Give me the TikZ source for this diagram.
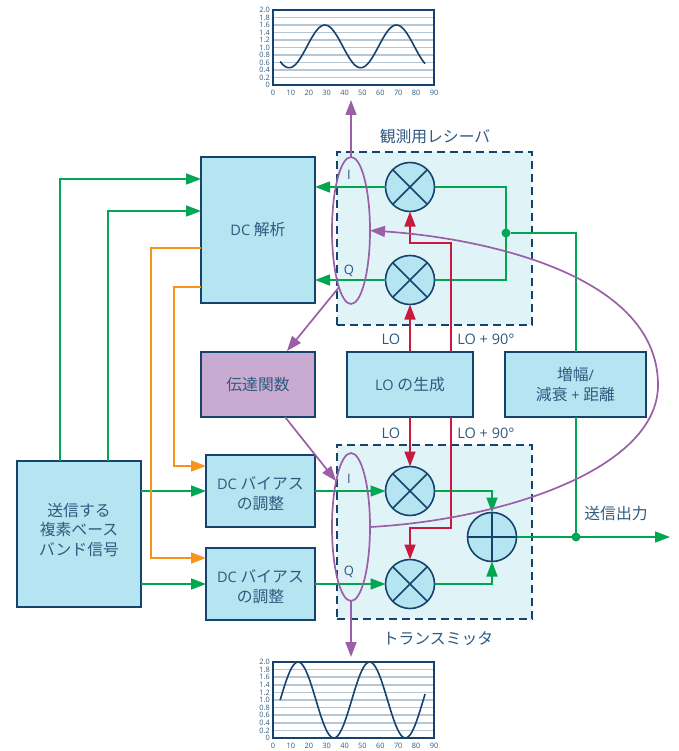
\documentclass[tikz,border=0pt]{standalone}
\usepackage{fontspec}
\setmainfont{Open Sans}
\newfontfamily\cjk[Scale=1.09]{Noto Sans CJK JP}
\usetikzlibrary{arrows.meta,shapes.geometric,calc}
\definecolor{dk}{HTML}{16436E}
\definecolor{txt}{HTML}{2F5A80}
\definecolor{bx}{HTML}{B5E5F0}
\definecolor{pn}{HTML}{E0F4F8}
\definecolor{gn}{HTML}{00A651}
\definecolor{rd}{HTML}{C8193F}
\definecolor{pp}{HTML}{9B5FA8}
\definecolor{og}{HTML}{F7941E}
\definecolor{tf}{HTML}{C9AAD0}
\definecolor{gr}{HTML}{B5C7D5}
\newcommand{\J}[1]{{\cjk #1}}
\tikzset{
  tip/.style={-{Triangle[length=15pt,width=11pt]}},
  box/.style={draw=dk,line width=1.6pt,fill=bx,outer sep=0pt,inner sep=0pt,text=txt,align=center,
     font=\fontsize{14.5}{19.5}\selectfont},
  panel/.style={draw=dk,line width=1.6pt,fill=pn,dash pattern=on 8pt off 5pt},
  mix/.style={circle,draw=dk,line width=1.6pt,fill=bx,minimum size=49pt,inner sep=0pt,outer sep=0pt},
  xline/.style={draw=dk,line width=1.6pt},
  oval/.style={ellipse,draw=pp,line width=1.7pt,minimum width=38pt,inner sep=0pt,outer sep=0pt},
  gw/.style={draw=gn,line width=1.6pt},
  rw/.style={draw=rd,line width=1.6pt},
  pw/.style={draw=pp,line width=1.7pt},
  ow/.style={draw=og,line width=1.6pt},
  lab/.style={text=txt,font=\fontsize{14.5}{18}\selectfont,inner sep=0pt},
  tick/.style={text=txt,font=\fontsize{7.4}{8}\selectfont,inner sep=0pt},
  dot/.style={circle,fill=gn,minimum size=9pt,inner sep=0pt,outer sep=0pt},
  gridl/.style={draw=gr,line width=1.2pt},
  frame/.style={draw=dk,line width=1.6pt},
  curve/.style={draw=dk,line width=1.6pt,line join=round},
}
\begin{document}
\begin{tikzpicture}[x=1pt,y=-1pt]
\useasboundingbox (0,0) rectangle (678,751);
% panels
\node[panel,draw,minimum width=195pt,minimum height=173pt,inner sep=0pt] (rxp) at (434.5,238.5) {};
\node[panel,draw,minimum width=195pt,minimum height=174pt,inner sep=0pt] (txp) at (434.5,532) {};
% coordinates
\coordinate (g1) at (60,179);
\coordinate (g2) at (108,211);
\coordinate (o1) at (151,248);
\coordinate (o2) at (174,287);
\coordinate (rxo) at (451,243);
\coordinate (txo) at (451,528);
\coordinate (t1) at (351,100);
\coordinate (t2) at (351,657);
\coordinate (out) at (670,537);
\coordinate (amp1) at (576,233);
% boxes
\node[box,minimum width=114pt,minimum height=146pt] (dc) at (258,230) {DC \J{解析}};
\node[box,fill=tf,minimum width=114pt,minimum height=65pt] (tfn) at (258,384.5) {\J{伝達関数}};
\node[box,minimum width=126pt,minimum height=65pt] (lo) at (410,384.5) {LO \J{の生成}};
\node[box,minimum width=141pt,minimum height=65pt] (amp) at (575.5,384.5) {\J{増幅}/\\\J{減衰} + \J{距離}};
\node[box,minimum width=124pt,minimum height=146pt] (tx) at (79,534) {\J{送信する}\\\J{複素ベース}\\\J{バンド信号}\\[-10pt]\mbox{}};
\node[box,minimum width=109pt,minimum height=72pt] (b1) at (260.5,491) {\rule{0pt}{18pt}DC \J{バイアス}\\\J{の調整}};
\node[box,minimum width=109pt,minimum height=72pt] (b2) at (260.5,584) {\rule{0pt}{18pt}DC \J{バイアス}\\\J{の調整}};
% mixers
\node[mix] (m1) at (410,187) {};
\node[mix] (m2) at (410,280) {};
\node[mix] (m3) at (410,491) {};
\node[mix] (m4) at (410,584) {};
\node[mix] (pl) at (492,537) {};
\foreach \m in {m1,m2,m3,m4}{
  \draw[xline] (\m.north west) -- (\m.south east);
  \draw[xline] (\m.north east) -- (\m.south west);
}
\draw[xline] (pl.north) -- (pl.south);
\draw[xline] (pl.west) -- (pl.east);
% green
\draw[gw,tip] (g1 |- tx.north) -- (g1) -- (g1 -| dc.west);
\draw[gw,tip] (g2 |- tx.north) -- (g2) -- (g2 -| dc.west);
\draw[gw,tip] (tx.east |- b1.west) -- (b1.west);
\draw[gw,tip] (tx.east |- b2.west) -- (b2.west);
\draw[gw,tip] (b1.east) -- (m3.west);
\draw[gw,tip] (b2.east) -- (m4.west);
\draw[gw,tip] (m1.west) -- (m1.west -| dc.east);
\draw[gw,tip] (m2.west) -- (m2.west -| dc.east);
\node[dot] (j1) at (506,233) {};
\draw[gw] (m1.east) -- (m1.east -| j1) -- (m2.east -| j1) -- (m2.east);
\draw[gw] (j1) -- (amp1) -- (amp.north -| amp1);
\node[dot] (j2) at (576,537) {};
\draw[gw] (amp.south -| j2) -- (j2);
\draw[gw,tip] (m3.east) -- (m3.east -| pl) -- (pl.north);
\draw[gw,tip] (m4.east) -- (m4.east -| pl) -- (pl.south);
\draw[gw,tip] (pl.east) -- (out);
% orange
\draw[ow,tip] (o1 -| dc.west) -- (o1) -- (o1 |- 0,558) -- (b2.west |- 0,558);
\draw[ow,tip] (o2 -| dc.west) -- (o2) -- (o2 |- 0,466) -- (b1.west |- 0,466);
% red
\draw[rw,tip] (m2.south |- lo.north) -- (m2.south);
\draw[rw,tip] (rxo |- lo.north) -- (rxo) -- (rxo -| m1) -- (m1.south);
\draw[rw,tip] (m3.north |- lo.south) -- (m3.north);
\draw[rw,tip] (txo |- lo.south) -- (txo) -- (txo -| m4) -- (m4.north);
% ovals
\node[oval,minimum height=147pt] (e1) at (351,230.5) {};
\node[oval,minimum height=148pt] (e2) at (351,527) {};
% purple
\draw[pw,tip] (e1.north) -- (t1);
\draw[pw,tip] (e2.south) -- (t2);
\draw[pw,tip] (e1.-102) -- ($(tfn.north)+(29,-1)$);
\draw[pw,tip] ($(tfn.south)+(27,0)$) -- (e2.108);
\draw[pw,tip] (e2.east) .. controls (500,520) and (658,470) .. (658,385) .. controls (658,270) and (470,237) .. (e1.east);
% labels
\node[lab] (l1) at (435,137) {\J{観測用レシーバ}};
\node[lab] (l2) at (438,639) {\J{トランスミッタ}};
\node[lab] (l3) at (616,514) {\J{送信出力}};
\node[lab] (l4) at (391,339) {LO};
\node[lab] (l5) at (486,339) {LO + 90°};
\node[lab] (l6) at (391,433) {LO};
\node[lab] (l7) at (486,433) {LO + 90°};
\node[lab,font=\fontsize{13}{16}\selectfont] (i1) at (349,175) {I};
\node[lab,font=\fontsize{13}{16}\selectfont] (q1) at (349,271) {Q};
\node[lab,font=\fontsize{13}{16}\selectfont] (i2) at (349,479) {I};
\node[lab,font=\fontsize{13}{16}\selectfont] (q2) at (349,572) {Q};
% chart top
\foreach \v in {0.2,0.4,...,1.81}{\draw[gridl] (273,{85-37.5*\v}) -- (434,{85-37.5*\v});}
\draw[frame] (273,10) rectangle (434,85);
\draw[curve] plot[domain=4:85,samples=90] ({273+1.789*\x},{85-37.5*(1.03+0.57*sin(9*(\x-19)))});
\foreach \v/\t in {0/0,0.2/0.2,0.4/0.4,0.6/0.6,0.8/0.8,1.0/1.0,1.2/1.2,1.4/1.4,1.6/1.6,1.8/1.8,2.0/2.0}{
  \node[tick,anchor=east] at (270,{85-37.5*\v}) {\t};}
\foreach \v in {0,10,...,90}{\node[tick] at ({273+1.789*\v},92.5) {\v};}
% chart bottom
\foreach \v in {0.2,0.4,...,1.81}{\draw[gridl,line width=1.6pt] (273,{738-38*\v}) -- (434,{738-38*\v});}
\draw[frame] (273,662) rectangle (434,738);
\draw[curve] plot[domain=4:85,samples=90] ({273+1.789*\x},{738-38*(1+sin(9*(\x-4)))});
\foreach \v/\t in {0/0,0.2/0.2,0.4/0.4,0.6/0.6,0.8/0.8,1.0/1.0,1.2/1.2,1.4/1.4,1.6/1.6,1.8/1.8,2.0/2.0}{
  \node[tick,anchor=east] at (270,{738-38*\v}) {\t};}
\foreach \v in {0,10,...,90}{\node[tick] at ({273+1.789*\v},746) {\v};}
\end{tikzpicture}
\end{document}
